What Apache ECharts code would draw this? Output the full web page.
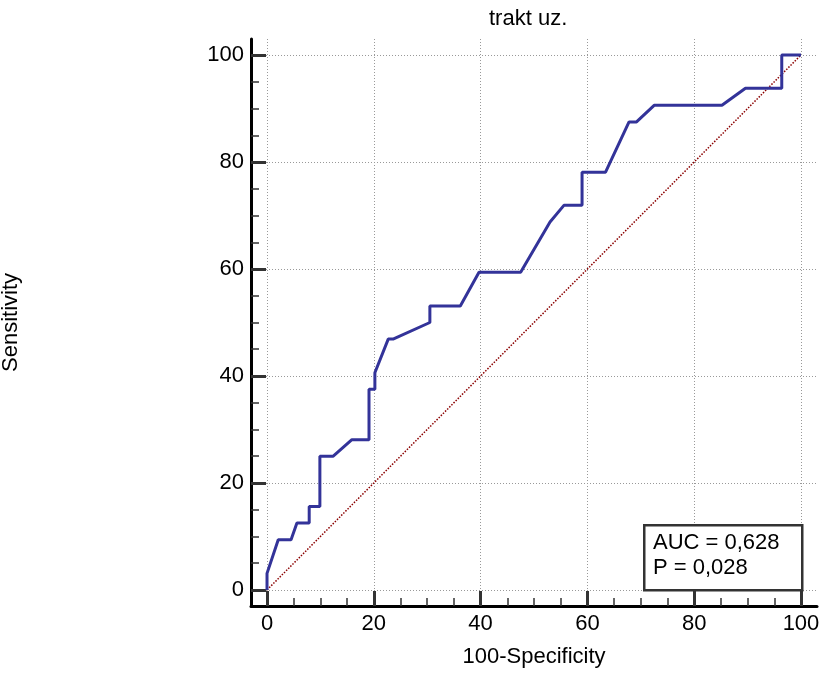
<!DOCTYPE html>
<html>
<head>
<meta charset="utf-8">
<script src="https://cdn.jsdelivr.net/npm/echarts@6/dist/echarts.min.js"></script>
<style>
  html, body { margin: 0; padding: 0; background: #fff; }
  #main { width: 823px; height: 675px; }
</style>
</head>
<body>
<div id="main"></div>
<script>
// ROC curve: [100-Specificity, Sensitivity]
const rocPoints = [
  [0, 0], [0, 3.1], [2.1, 9.4], [4.5, 9.4], [5.6, 12.5], [7.9, 12.5],
  [7.9, 15.6], [9.9, 15.6], [9.9, 25], [12.4, 25], [15.9, 28.1], [19.1, 28.1],
  [19.1, 37.5], [20.2, 37.5], [20.2, 40.6], [22.7, 46.9], [23.6, 46.9], [30.5, 50],
  [30.5, 53.1], [36.2, 53.1], [39.7, 59.4], [47.5, 59.4], [53, 68.8], [55.6, 71.9],
  [59, 71.9], [59, 78.1], [63.4, 78.1], [67.8, 87.5], [69.2, 87.5], [72.5, 90.6],
  [85.2, 90.6], [89.6, 93.8], [96.4, 93.8], [96.4, 100], [100, 100]
]
const diagonal = [[0, 0], [100, 100]]
const majorTicks = [0, 20, 40, 60, 80, 100]
const minorTicks = [5, 10, 15, 25, 30, 35, 45, 50, 55, 65, 70, 75, 85, 90, 95]
const aucText = ['AUC = 0,628', 'P = 0,028']

const font = 'Liberation Sans, Arial, sans-serif'
const fs = 22

// main axis: line, big ticks, labels, grid
const mainAxis = (name, gap) => ({
  type: 'value', min: -3, max: 103,
  name: name, nameLocation: 'middle', nameGap: gap,
  nameTextStyle: { fontSize: fs, color: '#000', fontFamily: font },
  axisLine: { onZero: false, lineStyle: { color: '#000', width: 3 } },
  axisTick: { inside: true, length: 15, customValues: majorTicks, lineStyle: { color: '#333', width: 3 } },
  axisLabel: { customValues: majorTicks, fontSize: fs, color: '#000', fontFamily: font, margin: 7 },
  splitLine: { show: true, lineStyle: { color: '#999', width: 1, type: [1, 2] } }
})
// second axis only for the small ticks
const minorAxis = () => ({
  type: 'value', min: -3, max: 103,
  axisLine: { show: false, onZero: false },
  axisTick: { inside: true, length: 8, customValues: minorTicks, lineStyle: { color: '#333', width: 1.5 } },
  axisLabel: { show: false },
  splitLine: { show: false }
})

var chart = echarts.init(document.getElementById('main'))
chart.setOption({
  animation: false,
  title: {
    text: 'trakt uz.', left: 484, top: 3,
    textStyle: { fontSize: fs, fontWeight: 'normal', color: '#000', fontFamily: font }
  },
  grid: { left: 251, right: 6, top: 39, bottom: 69, outerBoundsMode: 'none', containLabel: false },
  xAxis: [
    Object.assign(mainAxis('100-Specificity', 40), { position: 'bottom' }),
    Object.assign(minorAxis(), { position: 'bottom' })
  ],
  yAxis: [
    Object.assign(mainAxis('Sensitivity', 229), { position: 'left' }),
    Object.assign(minorAxis(), { position: 'left' })
  ],
  series: [
    {
      type: 'line', data: diagonal, showSymbol: false, silent: true,
      lineStyle: { color: '#8b0000', width: 1.5, type: [1.5, 1.5] }
    },
    {
      type: 'line', data: rocPoints, showSymbol: false, silent: true,
      lineStyle: { color: '#333399', width: 3 }
    }
  ],
  graphic: [
    {
      type: 'rect', left: 643, top: 524, z: 100,
      shape: { width: 158, height: 65 },
      style: { fill: '#fff', stroke: '#333', lineWidth: 2.5 }
    },
    {
      type: 'text', left: 653, top: 530, z: 101,
      style: { text: aucText.join('\n'), fontSize: fs, fontFamily: font, fill: '#000', lineHeight: 25 }
    }
  ]
})
</script>
</body>
</html>
